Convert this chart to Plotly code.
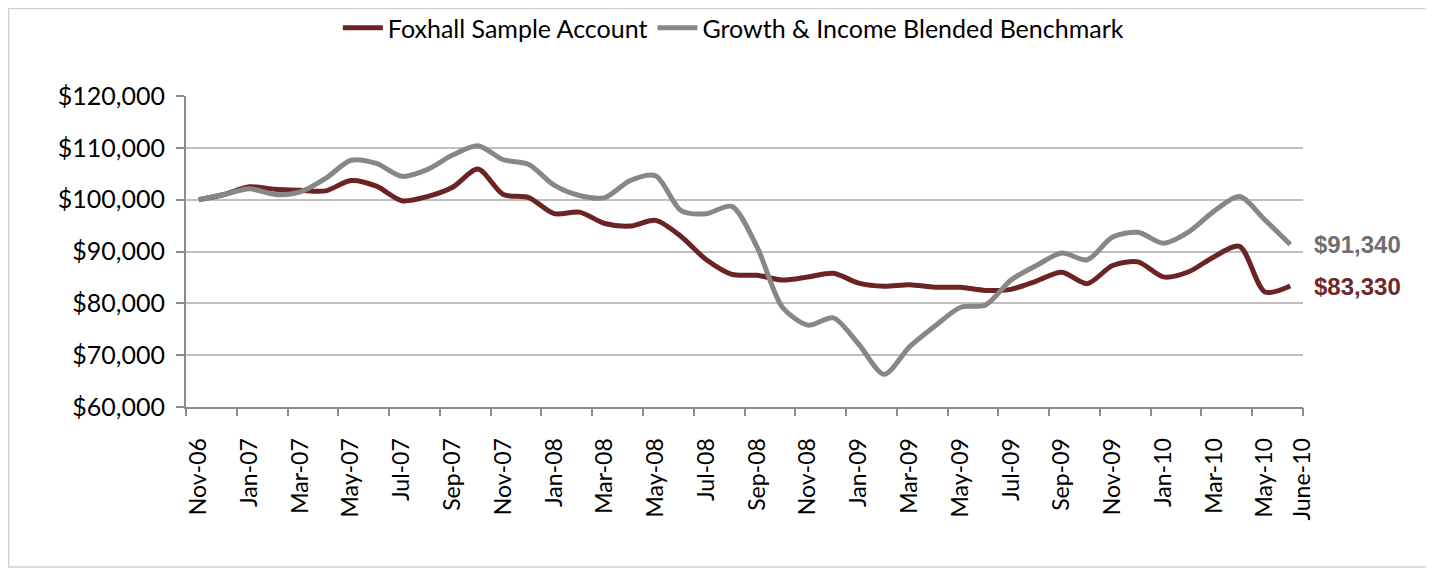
import plotly.graph_objects as go

months = ["Nov-06", "Dec-06", "Jan-07", "Feb-07", "Mar-07", "Apr-07", "May-07", "Jun-07",
          "Jul-07", "Aug-07", "Sep-07", "Oct-07", "Nov-07", "Dec-07", "Jan-08", "Feb-08",
          "Mar-08", "Apr-08", "May-08", "Jun-08", "Jul-08", "Aug-08", "Sep-08", "Oct-08",
          "Nov-08", "Dec-08", "Jan-09", "Feb-09", "Mar-09", "Apr-09", "May-09", "Jun-09",
          "Jul-09", "Aug-09", "Sep-09", "Oct-09", "Nov-09", "Dec-09", "Jan-10", "Feb-10",
          "Mar-10", "Apr-10", "May-10", "June-10"]

foxhall = [100000, 101000, 102500, 102000, 101800, 101700, 103700, 102600, 99800, 100600,
           102400, 105900, 101000, 100400, 97300, 97600, 95400, 94900, 96000, 92900,
           88400, 85600, 85400, 84500, 85100, 85800, 83900, 83300, 83600, 83100,
           83100, 82500, 82700, 84300, 86000, 83800, 87300, 88000, 85100, 86100,
           89000, 91000, 82200, 83330]

benchmark = [100000, 101000, 102100, 101000, 101500, 104100, 107600, 107000, 104500, 105800,
             108600, 110400, 107700, 106800, 102800, 100800, 100400, 103700, 104600, 97900,
             97300, 98700, 90800, 79200, 75800, 77200, 72100, 66300, 71600, 75600,
             79200, 79700, 84500, 87300, 89700, 88400, 92800, 93700, 91600, 93800,
             97800, 100600, 96100, 91340]

series_names = ["Foxhall Sample Account", "Growth & Income Blended Benchmark"]
end_labels = ["$83,330", "$91,340"]

label_idx = list(range(0, 43, 2))
tick_vals = label_idx + [43.5]          # the June-10 label sits at the axis end
tick_labels = [months[i] for i in label_idx] + [months[43]]
boundary_ticks = [i - 0.5 for i in range(0, 45, 2)]

RED = "#6B2323"
GRAY = "#878787"
AXIS = "#8C8C8C"
GRID = "#BFBFBF"
FONT = "Lato"

x = list(range(len(months)))

fig = go.Figure()
fig.add_trace(go.Scatter(x=x, y=foxhall, mode="lines", name=series_names[0],
                         line=dict(color=RED, width=5, shape="spline", smoothing=0.8)))
fig.add_trace(go.Scatter(x=x, y=benchmark, mode="lines", name=series_names[1],
                         line=dict(color=GRAY, width=5, shape="spline", smoothing=0.8)))
# invisible trace for the tick-mark axis
fig.add_trace(go.Scatter(x=[x[0]], y=[foxhall[0]], xaxis="x2", mode="markers",
                         marker=dict(opacity=0), showlegend=False, hoverinfo="skip"))

fig.add_annotation(x=x[-1], y=benchmark[-1], xref="x", yref="y", text="<b>" + end_labels[1] + "</b>",
                   showarrow=False, xanchor="left", xshift=22,
                   font=dict(family="Liberation Sans", size=24, color="#6F6F6F"))
fig.add_annotation(x=x[-1], y=foxhall[-1], xref="x", yref="y", text="<b>" + end_labels[0] + "</b>",
                   showarrow=False, xanchor="left", xshift=22,
                   font=dict(family="Liberation Sans", size=24, color="#702828"))

# page has an 8px body margin: figure coordinates = page coordinates - 8
OFF = 8
W, H = 1426, 563
L, T = 186 - OFF, 96 - OFF
R = W - (1303 - OFF)
B = H - (407 - OFF)
pw, ph = W - L - R, H - T - B
def px(v):
    return (v - OFF - L) / pw
def py(v):
    return (H - B - (v - OFF)) / ph

fig.add_shape(type="rect", xref="paper", yref="paper",
              x0=px(8.5), x1=px(1427), y0=py(567), y1=py(8.5),
              line=dict(color="#D0D0D0", width=1.5), fillcolor="rgba(0,0,0,0)", layer="below")

fig.update_layout(
    width=W, height=H,
    margin=dict(l=L, r=R, t=T, b=B, autoexpand=False),
    paper_bgcolor="white", plot_bgcolor="white",
    font=dict(family=FONT, size=22, color="#000000"),
    showlegend=True,
    legend=dict(orientation="h", x=0.49, xanchor="center", y=py(28), yanchor="middle",
                font=dict(family=FONT, size=25, color="#000000"),
                itemwidth=40, traceorder="normal", bgcolor="rgba(0,0,0,0)"),
    xaxis=dict(range=[-0.5, 43.5], tickmode="array", tickvals=tick_vals, ticktext=tick_labels,
               tickangle=-90, ticks="", showgrid=False, zeroline=False,
               showline=True, linecolor=AXIS, linewidth=2,
               ticklabelstandoff=20, tickfont=dict(family=FONT, size=23, color="#000000")),
    xaxis2=dict(range=[-0.5, 43.5], overlaying="x", anchor="y", side="bottom",
                tickmode="array", tickvals=boundary_ticks, ticks="outside", ticklen=8,
                tickwidth=1.5, tickcolor=AXIS, showticklabels=False, showgrid=False,
                zeroline=False, showline=False),
    yaxis=dict(range=[60000, 120000], dtick=10000, tick0=60000, tickformat="$,.0f",
               ticks="outside", ticklen=8, tickwidth=1.5, tickcolor=AXIS,
               showline=True, linecolor=AXIS, linewidth=2,
               showgrid=True, gridcolor=GRID, gridwidth=1.5, zeroline=False,
               ticklabelstandoff=6, tickfont=dict(family=FONT, size=25, color="#000000")),
)

fig.write_html("out.html")
